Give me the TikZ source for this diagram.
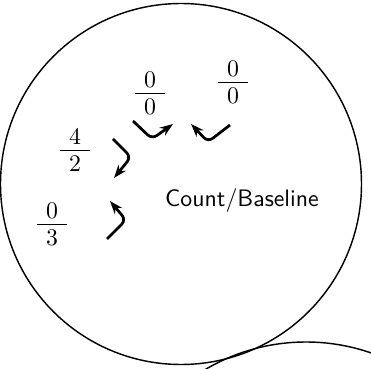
\documentclass[tikz,border=0pt]{standalone}
\usepackage{amsmath}
\usetikzlibrary{arrows.meta}

\newcommand{\ratiofrac}[2]{$\frac{\;\,\mbox{#1}\rule[-2pt]{0pt}{2pt}\;\,}{\;\,\mbox{#2}\rule{0pt}{8.1pt}\;\,}$}

\begin{document}
\begin{tikzpicture}[
    x=0.42pt, y=-0.42pt,
    ring/.style={draw, line width=0.6pt},
    ratio/.style={inner sep=0pt},
    lbl/.style={font=\sffamily, inner sep=0pt},
    turnarr/.style={-{Stealth[length=5.5pt,width=4pt]}, line width=1.15pt, rounded corners=2.5pt},
]
\useasboundingbox (0,0) rectangle (371,369);
\clip (0,0) rectangle (371,369);

% circles
\draw[ring] (181,184) circle[radius=180.5];
\draw[ring] (306,540) circle[radius=198];

% ratios
\node[ratio] (r00a) at (150,93)  {\ratiofrac{0}{0}};
\node[ratio] (r00b) at (233,82)  {\ratiofrac{0}{0}};
\node[ratio] (r42)  at (75,150)  {\ratiofrac{4}{2}};
\node[ratio] (r03)  at (52,224)  {\ratiofrac{0}{3}};

\node[lbl] (cb) at (242,201) {Count/Baseline};

% bent arrows
\draw[turnarr] (133,121) -- (152,139) -- (173,124);
\draw[turnarr] (230,125) -- (208,142) -- (191,124);
\draw[turnarr] (113,139) -- (131,157) -- (114,178);
\draw[turnarr] (107,239) -- (126,220) -- (110,201);

\end{tikzpicture}
\end{document}
